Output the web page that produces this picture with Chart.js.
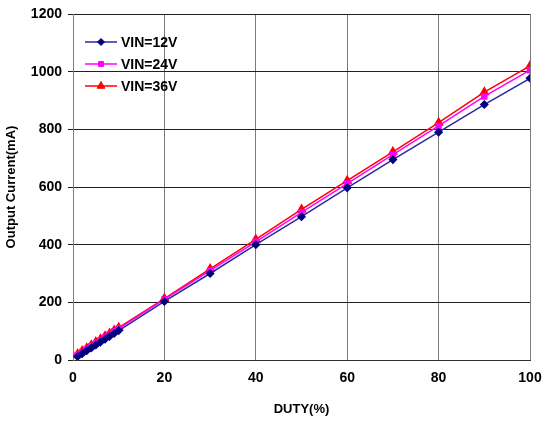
<!DOCTYPE html>
<html><head><meta charset="utf-8">
<script src="https://cdn.jsdelivr.net/npm/chart.js@4"></script>
<style>html,body{margin:0;padding:0;background:#fff}#wrap{width:544px;height:421px}</style>
</head><body><div id="wrap"><canvas id="c" width="544" height="421"></canvas></div>
<script>
const duty = [1,2,3,4,5,6,7,8,9,10,20,30,40,50,60,70,80,90,100];
const vin12 = [12,22,32,42,52,62,72,82,92,102,203,300,400,497,597,695,790,886,977];
const vin24 = [17,28,38,48,58,68,78,89,99,109,210,310,410,512,612,712,812,914,1005];
const vin36 = [20,31,41,51,62,72,82,92,102,112,213,316,418,522,622,722,823,929,1020];
const xTicks = [0,20,40,60,80,100];
const yTicks = [0,200,400,600,800,1000,1200];
const seriesNames = ['VIN=12V','VIN=24V','VIN=36V'];

const pts = (ys) => duty.map((d,i)=>({x:d,y:ys[i]}));
const FONT = 'Liberation Sans, Arial, sans-serif';

const legendPlugin = {
  id:'inLegend',
  afterDraw(chart){
    const ctx = chart.ctx;
    const x0 = 85, x1 = 117, tx = 121;
    const rows = [42, 64, 86];
    chart.data.datasets.forEach((ds,i)=>{
      const y = rows[i];
      ctx.save();
      ctx.strokeStyle = ds.borderColor; ctx.lineWidth = 1.5;
      ctx.beginPath(); ctx.moveTo(x0,y); ctx.lineTo(x1,y); ctx.stroke();
      ctx.fillStyle = ds.pointBackgroundColor; ctx.strokeStyle = ds.pointBorderColor; ctx.lineWidth = 1;
      Chart.helpers.drawPoint(ctx,{pointStyle:ds.pointStyle,radius:ds.pointRadius,borderWidth:1,rotation:0},(x0+x1)/2,y);
      ctx.fillStyle = '#000';
      ctx.font = 'bold 14px '+FONT;
      ctx.textBaseline = 'middle';
      ctx.textAlign = 'left';
      ctx.fillText(ds.label, tx, y+1);
      ctx.restore();
    });
  }
};

new Chart(document.getElementById('c'),{
  type:'scatter',
  data:{datasets:[
    {label:seriesNames[0],data:pts(vin12),showLine:true,borderColor:'#2a2a9a',borderWidth:1.5,
     pointStyle:'rectRot',pointRadius:3.5,pointBackgroundColor:'#000080',pointBorderColor:'#000080'},
    {label:seriesNames[1],data:pts(vin24),showLine:true,borderColor:'#ff00ff',borderWidth:1.5,
     pointStyle:'rect',pointRadius:3.5,pointBackgroundColor:'#ff00ff',pointBorderColor:'#ff00ff'},
    {label:seriesNames[2],data:pts(vin36),showLine:true,borderColor:'#ff0000',borderWidth:1.5,
     pointStyle:'triangle',pointRadius:4.5,pointBackgroundColor:'#ff0000',pointBorderColor:'#ff0000'}
  ]},
  options:{
    responsive:false,animation:false,
    layout:{padding:{left:0,right:14,top:14,bottom:0}},
    plugins:{legend:{display:false},tooltip:{enabled:false}},
    scales:{
      x:{type:'linear',min:0,max:100,
        afterBuildTicks:(s)=>{s.ticks=xTicks.map(v=>({value:v}));},
        afterFit:(s)=>{s.height=61;s.paddingLeft=0;s.paddingRight=0;},
        ticks:{font:{family:FONT,size:14,weight:'bold'},color:'#000',padding:10,maxRotation:0,callback:(v)=>String(v)},
        grid:{color:'#7a7a7a',lineWidth:1,tickLength:0},
        border:{color:'#303030',width:1},
        title:{display:true,text:'DUTY(%)',font:{family:FONT,size:13,weight:'bold'},color:'#000',padding:{top:6}}
      },
      y:{type:'linear',min:0,max:1200,
        afterBuildTicks:(s)=>{s.ticks=yTicks.map(v=>({value:v}));},
        afterFit:(s)=>{s.width=73;s.paddingTop=0;s.paddingBottom=0;},
        ticks:{font:{family:FONT,size:14,weight:'bold'},color:'#000',padding:6,callback:(v)=>String(v)},
        grid:{color:'#202020',lineWidth:1,tickLength:5},
        border:{color:'#808080',width:1},
        title:{display:true,text:'Output Current(mA)',font:{family:FONT,size:13,weight:'bold'},color:'#000',padding:{bottom:2}}
      }
    }
  },
  plugins:[legendPlugin]
});
</script></body></html>
